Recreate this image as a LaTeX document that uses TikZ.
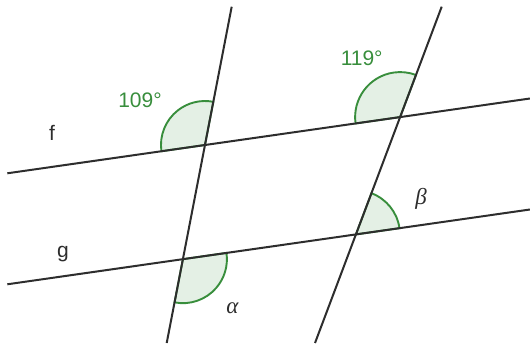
\documentclass[tikz,border=0pt]{standalone}
\usepackage{fontspec}
\setmainfont{Liberation Sans}
\newfontfamily\greekserif{Liberation Serif}
\definecolor{ggreen}{RGB}{56,142,60}
\definecolor{gfill}{RGB}{228,240,229}
\definecolor{lineblack}{RGB}{45,45,45}
\begin{document}
\begin{tikzpicture}[x=1pt,y=1pt,
  gline/.style={draw=lineblack, line width=2pt},
  anglesec/.style={fill=gfill, draw=ggreen, line width=1.9pt},
  lbl/.style={font=\fontsize{21}{25}\selectfont, inner sep=0pt, anchor=base, text=lineblack},
  greeklbl/.style={lbl, font=\greekserif\itshape\fontsize{23}{27}\selectfont},
  anglelbl/.style={lbl, text=ggreen}]
\useasboundingbox (0,0) rectangle (530,343);
% line end points
\coordinate (f1) at (7.3,169.7);
\coordinate (f2) at (530,244.5);
\coordinate (g1) at (7.3,58.7);
\coordinate (g2) at (530,133.5);
\coordinate (L1) at (231.7,336.3);
\coordinate (L2) at (166.7,0);
\coordinate (R1) at (441.7,336.3);
\coordinate (R2) at (315,0);
% intersections
\coordinate (A) at (intersection of f1--f2 and L1--L2);
\coordinate (B) at (intersection of f1--f2 and R1--R2);
\coordinate (C) at (intersection of g1--g2 and R1--R2);
\coordinate (D) at (intersection of g1--g2 and L1--L2);
% angle sectors
\filldraw[anglesec] (A) -- ++(188.14:44) arc[start angle=188.14, end angle=79.06, radius=44] -- cycle;
\filldraw[anglesec] (B) -- ++(188.14:45) arc[start angle=188.14, end angle=69.36, radius=45] -- cycle;
\filldraw[anglesec] (C) -- ++(8.14:44) arc[start angle=8.14, end angle=69.36, radius=44] -- cycle;
\filldraw[anglesec] (D) -- ++(259.06:44) arc[start angle=259.06, end angle=368.14, radius=44] -- cycle;
% lines
\draw[gline] (f1) -- (f2);
\draw[gline] (g1) -- (g2);
\draw[gline] (L1) -- (L2);
\draw[gline] (R1) -- (R2);
% labels
\node[anglelbl] (t109) at (140,235) {109°};
\node[anglelbl] (t119) at (361.7,277) {119°};
\node[lbl] (lf) at (52,202) {f};
\node[lbl] (lg) at (63,86) {g};
\node[greeklbl] (lalpha) at (232.5,29.5) {α};
\node[greeklbl] (lbeta) at (421,138) {β};
\end{tikzpicture}
\end{document}
